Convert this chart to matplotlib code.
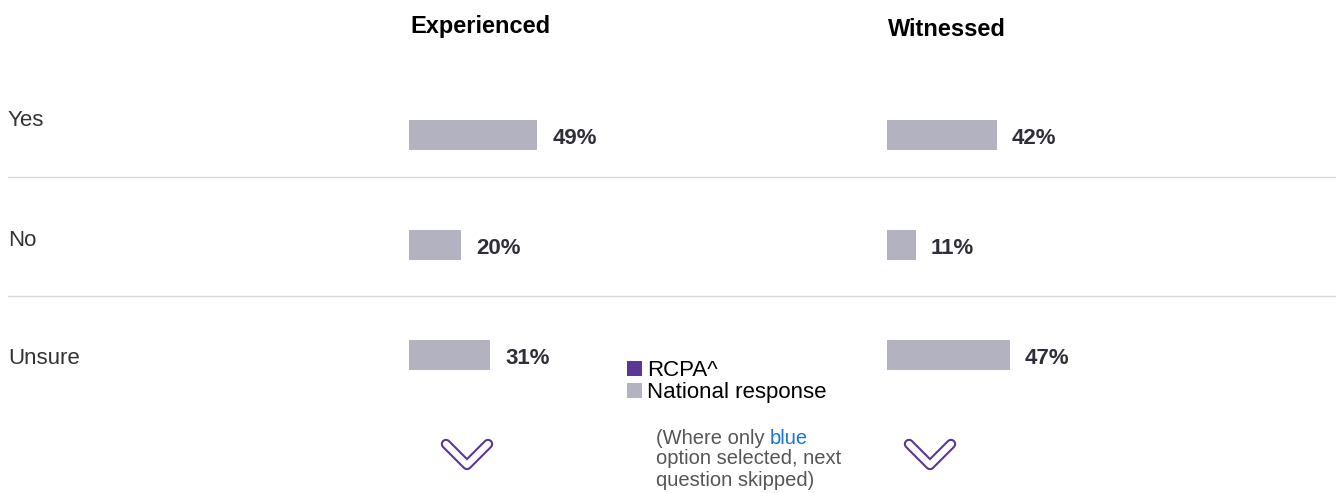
import matplotlib.pyplot as plt
from matplotlib.patches import Patch
from matplotlib.lines import Line2D

plt.rcParams['font.family'] = ['Liberation Sans', 'DejaVu Sans']

# --- data ---
categories = ['Yes', 'No', 'Unsure']
panels = ['Experienced', 'Witnessed']
experienced = [49, 20, 31]
witnessed = [42, 11, 47]
legend_labels = ['RCPA^', 'National response']

PURPLE = '#5c3696'
GREY = '#b3b2c0'
TEXT = '#333333'

W, H = 1338, 493
fig = plt.figure(figsize=(W / 100, H / 100), dpi=100)


def fx(px):
    return px / W


def fy(py):
    return 1 - py / H


# one axes per panel, 2.61 px per percent, rows 110 px apart
px_per_pct = 2.61
ax_w = 400
for left, title, values, title_y in [(409, panels[0], experienced, 27),
                                     (887, panels[1], witnessed, 30)]:
    ax = fig.add_axes([fx(left), fy(410), fx(ax_w), 330 / H])
    ax.barh(range(len(categories)), values, height=0.28, color=GREY)
    for i, v in enumerate(values):
        ax.annotate(f'{v}%', (v, i), xytext=(11, -2.5), textcoords='offset points',
                    ha='left', va='center', fontsize=16, fontweight='bold',
                    color='#2e2e38')
    ax.set_xlim(0, ax_w / px_per_pct)
    ax.set_ylim(2.5, -0.5)
    ax.axis('off')
    fig.text(fx(left + 1), fy(title_y), title, fontsize=17, fontweight='bold',
             ha='left', va='center', color='black')

# row labels
for lab, y in zip(categories, [120, 240, 359]):
    fig.text(fx(8), fy(y), lab, fontsize=16, ha='left', va='center', color=TEXT)

# separators
for y in [177, 296]:
    fig.add_artist(Line2D([fx(8), fx(1335)], [fy(y), fy(y)], color='#d9d9d9',
                          lw=1.0, transform=fig.transFigure))

# legend
handles = [Patch(facecolor=PURPLE), Patch(facecolor=GREY)]
fig.legend(handles, legend_labels, loc='upper left',
           bbox_to_anchor=(fx(627), fy(360)), frameon=False, fontsize=16,
           handlelength=0.66, handleheight=0.66, handletextpad=0.26,
           labelspacing=0.05, borderpad=0, borderaxespad=0)

# note under legend
fig.text(fx(656), fy(438), '(Where only ', fontsize=14.5, ha='left', va='center',
         color='#555555')
fig.text(fx(770), fy(438), 'blue', fontsize=14.5, ha='left', va='center',
         color='#1a73d9')
fig.text(fx(656), fy(459), 'option selected, next', fontsize=14.5, ha='left',
         va='center', color='#555555')
fig.text(fx(656), fy(481), 'question skipped)', fontsize=14.5, ha='left',
         va='center', color='#555555')

# chevrons
for cx in [467, 930]:
    xs = [fx(cx - 21), fx(cx), fx(cx + 21)]
    ys = [fy(444), fy(465), fy(444)]
    fig.add_artist(Line2D(xs, ys, color=PURPLE, lw=7.5, solid_capstyle='round',
                          solid_joinstyle='round', transform=fig.transFigure))
    fig.add_artist(Line2D(xs, ys, color='white', lw=4.5, solid_capstyle='round',
                          solid_joinstyle='round', transform=fig.transFigure))

fig.savefig('out.png', dpi=100)
